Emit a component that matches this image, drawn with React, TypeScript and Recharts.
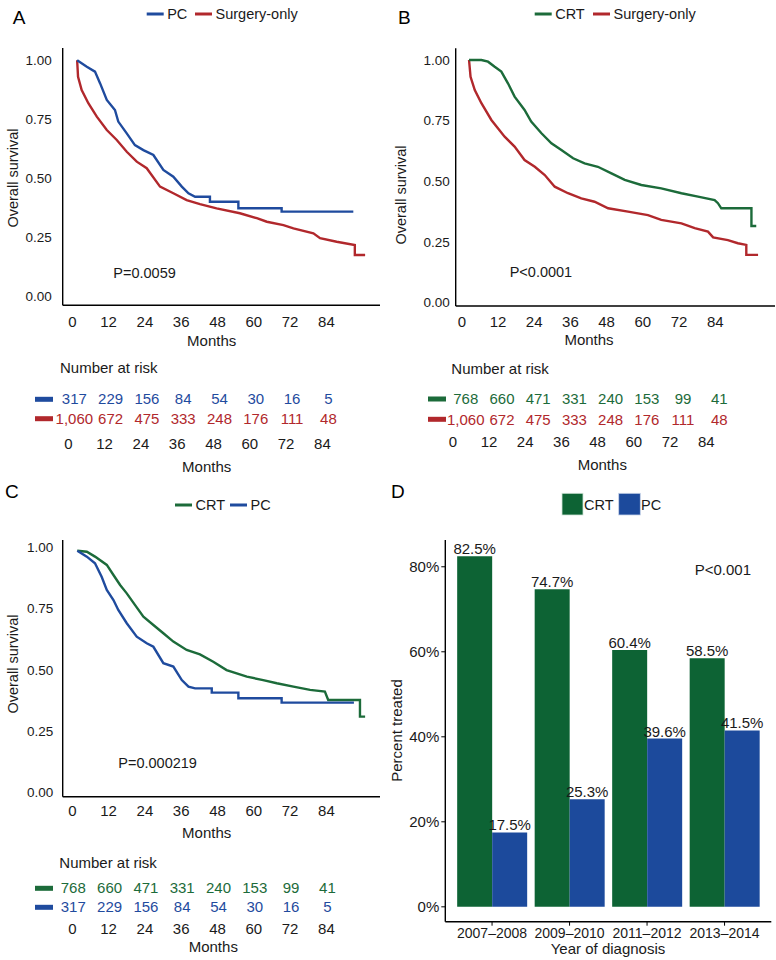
import React from "react";
import {
  LineChart,
  Line,
  XAxis,
  YAxis,
  ScatterChart,
  Scatter,
  BarChart,
  Bar,
  LabelList,
} from "recharts";

const FONT = '"Liberation Sans", Arial, Helvetica, sans-serif';
const INK = "#1a1a1a";
const BLUE = "#1f4b9e";
const RED = "#b1282c";
const GREEN = "#1c6b3a";
const BAR_GREEN = "#0d6334";
const BAR_BLUE = "#1c4a9c";

const monthTicks = [0, 12, 24, 36, 48, 60, 72, 84];
const survTicks = [0, 0.25, 0.5, 0.75, 1];

// number at risk at 0..84 months
const riskPC = [317, 229, 156, 84, 54, 30, 16, 5];
const riskSurgery = [1060, 672, 475, 333, 248, 176, 111, 48];
const riskCRT = [768, 660, 471, 331, 240, 153, 99, 41];

// KM curves, [month, survival]
const pcA = [
  [1.6, 1.0], [4.8, 0.973], [7.5, 0.952], [9.2, 0.902], [11.4, 0.832], [14.1, 0.789],
  [15.2, 0.74], [18, 0.69], [20.7, 0.64], [23.5, 0.619], [26.8, 0.598], [30.1, 0.535],
  [33.4, 0.506], [36.2, 0.464], [38.4, 0.436], [40.6, 0.421], [45.5, 0.421], [45.5, 0.4],
  [54.9, 0.4], [54.9, 0.372], [69.2, 0.372], [69.2, 0.358], [92.9, 0.358],
];
const surgA = [
  [1.6, 1.0], [1.9, 0.93], [3.1, 0.874], [5.3, 0.818], [8.1, 0.761], [11.4, 0.704],
  [14.7, 0.662], [18, 0.612], [21.3, 0.57], [24.6, 0.542], [29, 0.464], [33.4, 0.436],
  [37.8, 0.407], [42.2, 0.39], [47.7, 0.372], [55.4, 0.351], [61, 0.33], [64.3, 0.315],
  [69.8, 0.301], [73.1, 0.287], [79.7, 0.266], [81.9, 0.245], [87.4, 0.23], [93.4, 0.216],
  [93.4, 0.174], [96.8, 0.174],
];
const crtB = [
  [2.4, 1.0], [6.5, 1.0], [8.7, 0.993], [10.9, 0.972], [13.1, 0.952], [15.3, 0.904],
  [17.5, 0.849], [20.8, 0.794], [23, 0.746], [26.4, 0.698], [29.7, 0.657], [33, 0.629],
  [36.9, 0.595], [40.7, 0.574], [45.1, 0.56], [49.6, 0.533], [54, 0.506], [59.5, 0.485],
  [66.1, 0.471], [72.8, 0.451], [78.3, 0.437], [83.8, 0.423], [84.9, 0.41], [86, 0.389],
  [96, 0.389], [96, 0.316], [97.6, 0.316],
];
const surgB = [
  [2.4, 1.0], [2.9, 0.931], [4.3, 0.876], [6.5, 0.822], [9.8, 0.753], [14.2, 0.684],
  [17.5, 0.643], [20.8, 0.588], [24.2, 0.56], [27.5, 0.526], [30.8, 0.478], [35.2, 0.451],
  [39.6, 0.43], [44, 0.416], [48.5, 0.389], [55.1, 0.375], [61.7, 0.361], [66.1, 0.341],
  [72.8, 0.327], [77.2, 0.307], [81.6, 0.293], [83.3, 0.269], [88.2, 0.258], [91.5, 0.245],
  [94.3, 0.238], [94.3, 0.197], [98.2, 0.197],
];
const crtC = [
  [1.65, 0.986], [4.8, 0.982], [7.5, 0.962], [11.4, 0.928], [13.6, 0.887], [15.8, 0.846],
  [18, 0.812], [20.7, 0.765], [23.5, 0.717], [26.8, 0.683], [30.1, 0.649], [33.4, 0.615],
  [37.8, 0.581], [42.2, 0.563], [46.6, 0.533], [51, 0.499], [57.7, 0.472], [63.1, 0.458],
  [67.6, 0.445], [73.1, 0.431], [78.6, 0.418], [83.5, 0.411], [84.6, 0.377], [95.1, 0.377],
  [95.1, 0.309], [96.8, 0.309],
];
const pcC = [
  [1.65, 0.986], [4.8, 0.962], [7.5, 0.935], [9.7, 0.88], [11.4, 0.826], [13.6, 0.785],
  [15.2, 0.744], [18, 0.69], [21.3, 0.635], [24.6, 0.608], [26.8, 0.594], [30.1, 0.527],
  [33.4, 0.513], [36.2, 0.458], [38.4, 0.431], [40.6, 0.424], [46.1, 0.424], [46.1, 0.407],
  [54.9, 0.407], [54.9, 0.384], [69.2, 0.384], [69.2, 0.366], [93.1, 0.366],
];

// panel D
const years = ["2007–2008", "2009–2010", "2011–2012", "2013–2014"];
const crtPct = [82.5, 74.7, 60.4, 58.5];
const pcPct = [17.5, 25.3, 39.6, 41.5];

const pts = (a: number[][]) => a.map(([m, s]) => ({ m, s }));

const panels = [
  {
    left: 0, top: 0, width: 388, letter: "A", letterX: 12.7, letterY: 17,
    plot: { left: 62.7, right: 380, top: 48, bottom: 305.3, zeroX: 72.3, ppm: 3.025, oneY: 60.3, zeroY: 296 },
    yTickGap: 11, xTickGap: 11.4,
    legendY: 14,
    legend: [{ label: "PC", color: BLUE, x: 146.7 }, { label: "Surgery-only", color: RED, x: 195 }],
    series: [{ color: RED, pts: pts(surgA) }, { color: BLUE, pts: pts(pcA) }],
    p: { text: "P=0.0059", x: 113.3, y: 273.3 },
    ylab: { x: 13.3, y: 178 },
    months1: { x: 211.7, y: 341 },
    risk: {
      titleX: 60, titleY: 368, row1: 399.3, row2: 418.7, tickY: 443.3, numDx: 2, tickDx: -4, barX: 35,
      monthsX: 206.7, monthsY: 466.7,
      rows: [{ color: BLUE, values: riskPC }, { color: RED, values: riskSurgery }],
    },
  },
  {
    left: 388, top: 0, width: 388, letter: "B", letterX: 10, letterY: 17,
    plot: { left: 67.7, right: 387, top: 48.3, bottom: 306, zeroX: 73.8, ppm: 3.017, oneY: 60, zeroY: 302.7 },
    yTickGap: 6, xTickGap: 10.7,
    legendY: 14,
    legend: [{ label: "CRT", color: GREEN, x: 146.7 }, { label: "Surgery-only", color: RED, x: 205 }],
    series: [{ color: RED, pts: pts(surgB) }, { color: GREEN, pts: pts(crtB) }],
    p: { text: "P<0.0001", x: 121.7, y: 271.7 },
    ylab: { x: 13.3, y: 195 },
    months1: { x: 201, y: 340 },
    risk: {
      titleX: 63.3, titleY: 368.3, row1: 399, row2: 419.3, tickY: 441.7, numDx: 4, tickDx: -9, barX: 40,
      monthsX: 214.3, monthsY: 465,
      rows: [{ color: GREEN, values: riskCRT }, { color: RED, values: riskSurgery }],
    },
  },
  {
    left: 0, top: 470, width: 388, letter: "C", letterX: 5, letterY: 21.7,
    plot: { left: 62.7, right: 380, top: 70, bottom: 326.7, zeroX: 72.3, ppm: 3.025, oneY: 77.3, zeroY: 322.3 },
    yTickGap: 9.4, xTickGap: 8.3,
    legendY: 35,
    legend: [{ label: "CRT", color: GREEN, x: 175 }, { label: "PC", color: BLUE, x: 230 }],
    series: [{ color: GREEN, pts: pts(crtC) }, { color: BLUE, pts: pts(pcC) }],
    p: { text: "P=0.000219", x: 118.3, y: 293.3 },
    ylab: { x: 13.3, y: 194 },
    months1: { x: 206.7, y: 363 },
    risk: {
      titleX: 59.3, titleY: 392.7, row1: 418.3, row2: 437.3, tickY: 458.3, numDx: 1, tickDx: 0, barX: 35,
      monthsX: 213.3, monthsY: 476.7,
      rows: [{ color: GREEN, values: riskCRT }, { color: BLUE, values: riskPC }],
    },
  },
];

function KMPanel({ cfg }: { cfg: any }) {
  const { plot, risk, width } = cfg;
  const yr = plot.zeroY - plot.oneY;
  const yDomain = [-(plot.bottom - plot.zeroY) / yr, 1 + (plot.oneY - plot.top) / yr];
  const xDomain = [-(plot.zeroX - plot.left) / plot.ppm, (plot.right - plot.zeroX) / plot.ppm];
  const h = plot.bottom + 30;
  const riskTop = risk.row1 - 10;
  const riskH = 10 + (risk.row2 - risk.row1) + 40;

  return (
    <>
      <div style={{ position: "absolute", left: cfg.left, top: cfg.top }}>
        <LineChart
          width={width}
          height={h}
          margin={{ top: plot.top, right: width - plot.right, left: 0, bottom: 0 }}
        >
          <XAxis
            type="number"
            dataKey="m"
            domain={xDomain}
            allowDataOverflow
            ticks={monthTicks}
            height={30}
            axisLine={{ stroke: "#000", strokeWidth: 1.4 }}
            tickLine={false}
            tickSize={0}
            tickMargin={cfg.xTickGap}
            tick={(p: any) => (
              <text x={p.x} y={p.y} dy="0.71em" textAnchor="middle" fontSize={15} fill={INK}>
                {p.payload.value}
              </text>
            )}
          />
          <YAxis
            type="number"
            dataKey="s"
            domain={yDomain}
            allowDataOverflow
            ticks={survTicks}
            width={plot.left}
            axisLine={{ stroke: "#000", strokeWidth: 1.4 }}
            tickLine={false}
            tickSize={0}
            tickMargin={cfg.yTickGap}
            tick={(p: any) => (
              <text x={p.x} y={p.y} dy="0.355em" textAnchor="end" fontSize={13.5} fill={INK}>
                {Number(p.payload.value).toFixed(2)}
              </text>
            )}
          />
          {cfg.series.map((s: any, i: number) => (
            <Line
              key={i}
              data={s.pts}
              dataKey="s"
              type="linear"
              stroke={s.color}
              strokeWidth={2.4}
              dot={false}
              isAnimationActive={false}
            />
          ))}
        </LineChart>
      </div>

      <div style={{ position: "absolute", left: cfg.left, top: cfg.top + riskTop }}>
        <ScatterChart
          width={width}
          height={riskH}
          margin={{ top: 10, right: width - plot.right, left: 0, bottom: 0 }}
        >
          <XAxis
            type="number"
            dataKey="m"
            domain={xDomain}
            ticks={monthTicks}
            height={40}
            axisLine={false}
            tickLine={false}
            tickSize={0}
            tickMargin={risk.tickY - 5 - risk.row2}
            tick={(p: any) => (
              <text x={p.x + risk.tickDx} y={p.y} dy="0.71em" textAnchor="middle" fontSize={15} fill={INK}>
                {p.payload.value}
              </text>
            )}
          />
          <YAxis type="number" dataKey="r" domain={[0, 1]} width={plot.left} axisLine={false} tickLine={false} tick={false} />
          {risk.rows.map((row: any, i: number) => (
            <Scatter
              key={i}
              data={monthTicks.map((m, j) => ({ m, r: 1 - i, n: row.values[j] }))}
              isAnimationActive={false}
              shape={(sp: any) => (
                <text
                  x={sp.cx + risk.numDx}
                  y={sp.cy}
                  dy="0.355em"
                  textAnchor="middle"
                  fontSize={15}
                  fill={row.color}
                >
                  {sp.payload.n.toLocaleString("en-US")}
                </text>
              )}
            />
          ))}
        </ScatterChart>
      </div>

      <svg
        width={width}
        height={480}
        style={{ position: "absolute", left: cfg.left, top: cfg.top, pointerEvents: "none", overflow: "visible" }}
      >
        <text x={cfg.letterX} y={cfg.letterY} dy="0.355em" fontSize={19} fill="#000">
          {cfg.letter}
        </text>
        {cfg.legend.map((it: any, i: number) => (
          <g key={i}>
            <line x1={it.x} x2={it.x + 17} y1={cfg.legendY} y2={cfg.legendY} stroke={it.color} strokeWidth={3} />
            <text x={it.x + 20.5} y={cfg.legendY} dy="0.355em" fontSize={14.5} fill={INK}>
              {it.label}
            </text>
          </g>
        ))}
        <text
          x={cfg.ylab.x}
          y={cfg.ylab.y}
          dy="0.355em"
          textAnchor="middle"
          fontSize={14.5}
          fill={INK}
          transform={`rotate(-90 ${cfg.ylab.x} ${cfg.ylab.y})`}
        >
          Overall survival
        </text>
        <text x={cfg.p.x} y={cfg.p.y} dy="0.355em" fontSize={14.5} fill={INK}>
          {cfg.p.text}
        </text>
        <text x={cfg.months1.x} y={cfg.months1.y} dy="0.355em" textAnchor="middle" fontSize={15} fill={INK}>
          Months
        </text>
        <text x={risk.titleX} y={risk.titleY} dy="0.355em" fontSize={15} fill={INK}>
          Number at risk
        </text>
        {risk.rows.map((row: any, i: number) => (
          <rect
            key={i}
            x={risk.barX}
            y={(i === 0 ? risk.row1 : risk.row2) - 2.5}
            width={18}
            height={5}
            fill={row.color}
          />
        ))}
        <text x={risk.monthsX} y={risk.monthsY} dy="0.355em" textAnchor="middle" fontSize={15} fill={INK}>
          Months
        </text>
      </svg>
    </>
  );
}

function BarPanel() {
  const data = years.map((year, i) => ({ year, crt: crtPct[i], pc: pcPct[i] }));
  const fmt = (v: any) => `${Number(v).toFixed(1)}%`;
  return (
    <>
      <div style={{ position: "absolute", left: 388, top: 470 }}>
        <BarChart
          width={388}
          height={490}
          data={data}
          margin={{ top: 70, right: 4.7, left: 0, bottom: 0 }}
          barCategoryGap="5%"
          barGap={0}
        >
          <XAxis
            dataKey="year"
            height={38.3}
            padding={{ left: 8, right: 8 }}
            axisLine={{ stroke: "#000", strokeWidth: 1.4 }}
            tickLine={{ stroke: "#000" }}
            tickSize={4}
            tickMargin={2}
            tick={{ fill: INK, fontSize: 14 }}
          />
          <YAxis
            type="number"
            domain={[-3.5, 86.3]}
            allowDataOverflow
            ticks={[0, 20, 40, 60, 80]}
            width={57.3}
            axisLine={{ stroke: "#000", strokeWidth: 1.4 }}
            tickLine={{ stroke: "#000" }}
            tickSize={4}
            tickMargin={2}
            tickFormatter={(v) => `${v}%`}
            tick={{ fill: INK, fontSize: 15 }}
          />
          <Bar dataKey="crt" fill={BAR_GREEN} isAnimationActive={false}>
            <LabelList dataKey="crt" position="top" offset={2} formatter={fmt} fill={INK} fontSize={15} />
          </Bar>
          <Bar dataKey="pc" fill={BAR_BLUE} isAnimationActive={false}>
            <LabelList dataKey="pc" position="top" offset={2} formatter={fmt} fill={INK} fontSize={15} />
          </Bar>
        </BarChart>
      </div>
      <svg
        width={388}
        height={490}
        style={{ position: "absolute", left: 388, top: 470, pointerEvents: "none", overflow: "visible" }}
      >
        <text x={3} y={21.7} dy="0.355em" fontSize={19} fill="#000">D</text>
        <rect x={174} y={23.3} width={21} height={21.7} fill={BAR_GREEN} stroke="#cfe3d6" strokeWidth={0.8} />
        <text x={196} y={34.5} dy="0.355em" fontSize={14.5} fill={INK}>CRT</text>
        <rect x={230.7} y={23.3} width={21.6} height={21.7} fill={BAR_BLUE} stroke="#c9d4ea" strokeWidth={0.8} />
        <text x={253} y={34.5} dy="0.355em" fontSize={14.5} fill={INK}>PC</text>
        <text x={306.7} y={100} dy="0.355em" fontSize={15} fill={INK}>P&lt;0.001</text>
        <text
          x={9}
          y={260.5}
          dy="0.355em"
          textAnchor="middle"
          fontSize={15}
          fill={INK}
          transform="rotate(-90 9 260.5)"
        >
          Percent treated
        </text>
        <text x={220} y={479} dy="0.355em" textAnchor="middle" fontSize={15} fill={INK}>
          Year of diagnosis
        </text>
      </svg>
    </>
  );
}

export default function App() {
  return (
    <div
      style={{
        position: "absolute",
        left: 0,
        top: 0,
        width: 776,
        height: 960,
        background: "#fff",
        fontFamily: FONT,
        overflow: "hidden",
      }}
    >
      {panels.map((cfg, i) => (
        <KMPanel key={i} cfg={cfg} />
      ))}
      <BarPanel />
    </div>
  );
}
